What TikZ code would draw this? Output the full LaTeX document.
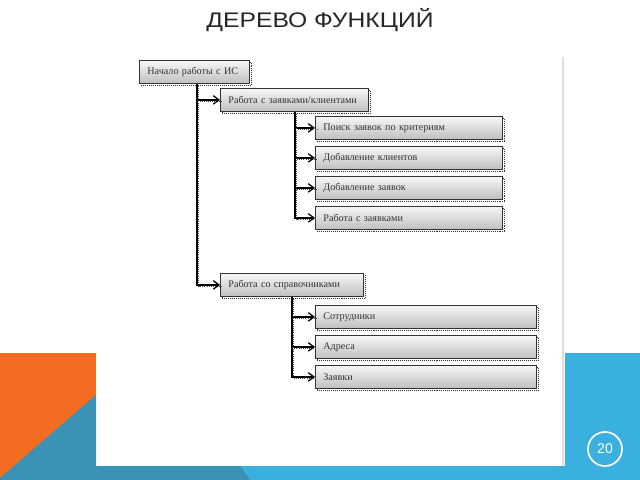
\documentclass[tikz,border=0pt]{standalone}
\usepackage{fontspec}
\setmainfont{Liberation Serif}
\newfontfamily\titlefont{Liberation Sans}
\usetikzlibrary{arrows.meta,positioning,calc}
\definecolor{slideorange}{HTML}{F36C21}
\definecolor{slideteal}{HTML}{3A93B4}
\definecolor{slideblue}{HTML}{3AB0DE}

\begin{document}
\begin{tikzpicture}[x=0.025cm, y=-0.025cm,
    fbox/.style={draw=gray!40!black, line width=0.6pt, top color=gray!6, bottom color=gray!50,
        minimum height=0.575cm, inner xsep=0.2cm, inner ysep=0pt, text width=#1, align=left,
        anchor=north west, font=\fontsize{7.2}{8}\selectfont, text=black!80,
        preaction={draw=black!80, dash pattern=on 0.7pt off 0.7pt, line width=1.2pt,
            transform canvas={xshift=1.4pt, yshift=-1.4pt}}},
    link/.style={draw=black, line width=0.9pt, -{Straight Barb[length=4pt, width=6pt]},
        preaction={draw=black!70, -, dash pattern=on 0.6pt off 0.9pt, line width=0.8pt,
            transform canvas={xshift=1.3pt, yshift=-1.3pt}}}]

    % slide background
    \useasboundingbox (0,0) rectangle (640,480);
    \fill[white] (0,0) rectangle (640,480);
    \fill[slideorange] (0,353) rectangle (96,480);
    \fill[slideteal] (0,478) -- (96,395) -- (96,466) -- (241,466) -- (251,480) -- (0,480) -- cycle;
    \fill[slideblue] (565,353) -- (640,353) -- (640,480) -- (251,480) -- (241,466) -- (565,466) -- cycle;
    \draw[gray!25, line width=0.8pt] (563,57) -- (563,466);

    \node[font=\titlefont\fontsize{15}{18}\selectfont, text=black!85] (title) at (320,20)
        {\scalebox{1.17}[1]{ДЕРЕВО ФУНКЦИЙ}};
    \node[draw=white, circle, line width=1.2pt, minimum size=0.85cm, inner sep=0pt,
        text=white, font=\titlefont\fontsize{10}{12}\selectfont] (page) at (605,449) {20};

    % function tree
    \node[fbox=2.35cm] (start) at (139,60) {Начало работы с ИС};
    \node[fbox=3.3cm] (zayav) at (220,88) {Работа с заявками/клиентами};
    \node[fbox=4.275cm] (poisk) at (315,116) {Поиск заявок по критериям};
    \node[fbox=4.275cm] (klient) at (315,146) {Добавление клиентов};
    \node[fbox=4.275cm] (dobzayav) at (315,176) {Добавление заявок};
    \node[fbox=4.275cm] (rabzayav) at (315,206) {Работа с заявками};
    \node[fbox=3.175cm] (sprav) at (220,273) {Работа со справочниками};
    \node[fbox=5.125cm] (sotr) at (315,305) {Сотрудники};
    \node[fbox=5.125cm] (adres) at (315,335) {Адреса};
    \node[fbox=5.125cm] (zayavki) at (315,365) {Заявки};

    \coordinate (t1) at (197,0);
    \coordinate (t2) at (295,0);
    \coordinate (t3) at (292,0);

    \draw[link] (start.south -| t1) |- (sprav.west);
    \draw[link] (start.south -| t1) |- (zayav.west);
    \foreach \n in {poisk,klient,dobzayav,rabzayav}
        \draw[link] (zayav.south -| t2) |- (\n.west);
    \foreach \n in {sotr,adres,zayavki}
        \draw[link] (sprav.south -| t3) |- (\n.west);
\end{tikzpicture}
\end{document}
